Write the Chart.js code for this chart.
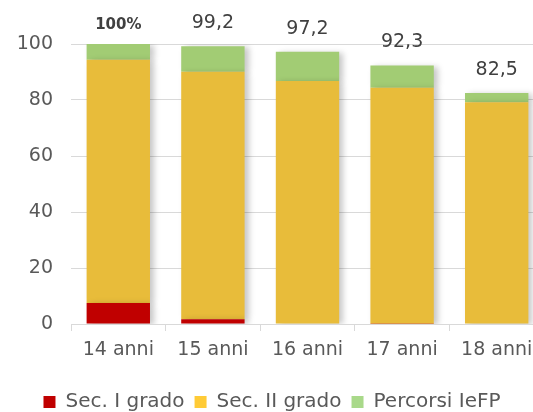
<!DOCTYPE html>
<html>
<head>
<meta charset="utf-8">
<script src="https://cdn.jsdelivr.net/npm/chart.js@4/dist/chart.umd.min.js"></script>
<style>
  html, body { margin: 0; padding: 0; background: #fff; overflow: hidden; }
  #wrap { width: 548px; height: 412px; }
</style>
</head>
<body>
<div id="wrap"><canvas id="barChart" width="548" height="412"></canvas></div>
<script>
const labels = ['14 anni', '15 anni', '16 anni', '17 anni', '18 anni']
const secPrimo = [7.5, 1.7, 0.2, 0.1, 0]
const secSecondo = [86.9, 88.4, 86.6, 84.3, 79.2]
const percorsiIeFP = [5.6, 9.1, 10.4, 7.9, 3.3]
const totalLabels = ['100%', '99,2', '97,2', '92,3', '82,5']
const yTicks = [0, 20, 40, 60, 80, 100]

let colors = {
  RED: '#C00000',
  YELLOW: '#E8BC3A',
  GREEN: '#A2CC74',
  YELLOW_LEG: '#FFCB36',
  GREEN_LEG: '#A9D98A',
  TEXT: '#595959'
}
const FONT = "'DejaVu Sans', sans-serif"

// soft shadow on the right of each bar, like the office chart
const barShadow = {
  id: 'barShadow',
  beforeDatasetsDraw(chart) {
    const ctx = chart.ctx
    ctx.save()
    ctx.shadowColor = 'rgba(0,0,0,0.22)'
    ctx.shadowBlur = 6
    ctx.shadowOffsetX = 4
    ctx.shadowOffsetY = 1
  },
  afterDatasetsDraw(chart) {
    chart.ctx.restore()
  }
}

// totals above each stack
const totalsPlugin = {
  id: 'totals',
  afterDatasetsDraw(chart) {
    const ctx = chart.ctx
    const y = chart.scales.y
    const meta = chart.getDatasetMeta(0)
    ctx.save()
    ctx.textAlign = 'center'
    ctx.textBaseline = 'middle'
    ctx.fillStyle = '#404040'
    for (let i = 0; i < labels.length; i++) {
      const sum = secPrimo[i] + secSecondo[i] + percorsiIeFP[i]
      const top = y.getPixelForValue(sum)
      const x = meta.data[i].x
      if (i === 0) {
        ctx.font = 'bold 15px ' + FONT
        ctx.fillText(totalLabels[i], x, top - 19)
      } else {
        ctx.font = '19px ' + FONT
        ctx.fillText(totalLabels[i], x, top - 23)
      }
    }
    ctx.restore()
  }
}

const legendColors = [colors.RED, colors.YELLOW_LEG, colors.GREEN_LEG]

new Chart(document.getElementById('barChart'), {
  type: 'bar',
  data: {
    labels: labels,
    datasets: [
      { label: 'Sec. I grado', data: secPrimo, backgroundColor: colors.RED },
      { label: 'Sec. II grado', data: secSecondo, backgroundColor: colors.YELLOW },
      { label: 'Percorsi IeFP', data: percorsiIeFP, backgroundColor: colors.GREEN }
    ]
  },
  options: {
    responsive: false,
    animation: false,
    barPercentage: 0.67,
    categoryPercentage: 1,
    layout: { padding: { top: 44, right: 4, left: 0, bottom: -10 } },
    plugins: {
      tooltip: { enabled: false },
      legend: {
        position: 'bottom',
        labels: {
          boxWidth: 12,
          boxHeight: 12,
          padding: 10,
          color: colors.TEXT,
          font: { family: FONT, size: 20 },
          generateLabels(chart) {
            return chart.data.datasets.map((ds, i) => ({
              text: ds.label,
              fillStyle: legendColors[i],
              strokeStyle: legendColors[i],
              lineWidth: 0,
              fontColor: colors.TEXT,
              datasetIndex: i
            }))
          }
        }
      }
    },
    scales: {
      x: {
        stacked: true,
        grid: {
          offset: true,
          drawOnChartArea: false,
          color: '#D9D9D9',
          tickLength: 7,
          tickColor: '#D9D9D9'
        },
        border: { color: '#D9D9D9', width: 1 },
        ticks: { color: colors.TEXT, font: { family: FONT, size: 19 }, padding: 8 },
        afterFit(scale) { scale.height = 58 }
      },
      y: {
        stacked: true,
        min: 0,
        max: 100,
        afterBuildTicks(scale) { scale.ticks = yTicks.map(v => ({ value: v })) },
        grid: { color: '#D9D9D9', drawTicks: false },
        border: { display: false },
        ticks: { color: colors.TEXT, font: { family: FONT, size: 19 }, padding: 18 },
        afterFit(scale) { scale.width = 71 }
      }
    }
  },
  plugins: [barShadow, totalsPlugin]
})
</script>
</body>
</html>
